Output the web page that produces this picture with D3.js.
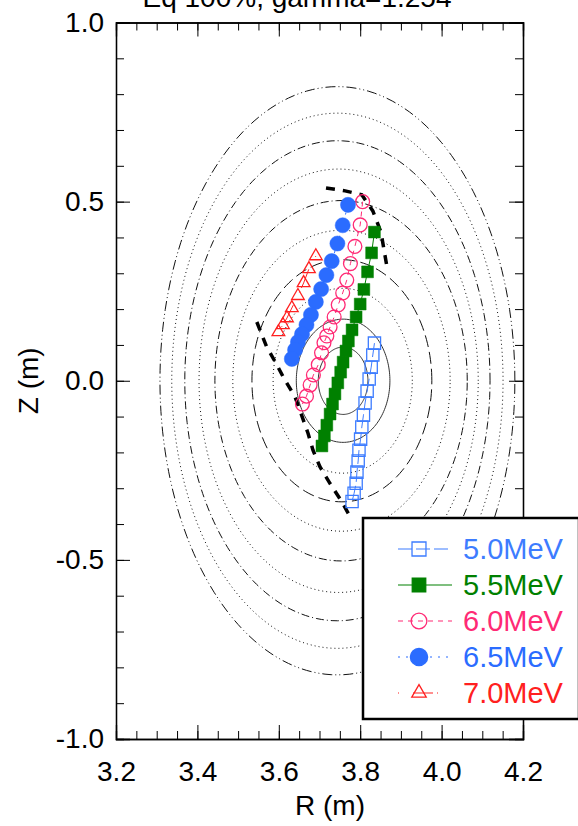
<!DOCTYPE html>
<html><head><meta charset="utf-8">
<script src="https://cdn.jsdelivr.net/npm/d3@7/dist/d3.min.js"></script>
<style>
html,body{margin:0;padding:0;background:#fff;}
svg{display:block;font-family:"Liberation Sans",Arial,sans-serif;}
</style></head>
<body>
<svg id="chart" width="578" height="826"></svg>
<script>
// ---------- data ----------
const titleText = "Eq 100%, gamma=1.254";
const xTicks = [3.2, 3.4, 3.6, 3.8, 4.0, 4.2];
const yTicks = [-1.0, -0.5, 0.0, 0.5, 1.0];
const xTickLabels = ["3.2", "3.4", "3.6", "3.8", "4.0", "4.2"];
const yTickLabels = ["-1.0", "-0.5", "0.0", "0.5", "1.0"];

// flux-surface contours (outer -> inner): centre R, half-width, half-height (m)
const contourR0 = [3.744, 3.744, 3.744, 3.747, 3.753, 3.754, 3.755, 3.757, 3.758, 3.758];
const contourA  = [0.436, 0.407, 0.375, 0.343, 0.310, 0.267, 0.221, 0.171, 0.115, 0.061];
const contourB  = [0.821, 0.747, 0.670, 0.591, 0.503, 0.420, 0.338, 0.258, 0.172, 0.094];
const contourStyle = ["dashdotdot", "dot", "dashdot", "dot", "dashdot", "dot", "longdash", "dot", "solid", "solid"];

// thick dashed boundary
const boundaryTopR = [3.716, 3.763, 3.804, 3.831, 3.851, 3.865];
const boundaryTopZ = [0.538, 0.530, 0.519, 0.474, 0.415, 0.323];
const boundaryLowR = [3.546, 3.570, 3.591, 3.615, 3.640, 3.656, 3.672, 3.684, 3.701, 3.726, 3.755, 3.780];
const boundaryLowZ = [0.164, 0.095, 0.053, 0.002, -0.045, -0.096, -0.147, -0.194, -0.240, -0.287, -0.338, -0.389];

// orbit series
const seriesNames = ["5.0MeV", "5.5MeV", "6.0MeV", "6.5MeV", "7.0MeV"];
const r50 = [3.835, 3.831, 3.827, 3.822, 3.817, 3.812, 3.808, 3.804, 3.801, 3.797, 3.795, 3.792, 3.790, 3.785, 3.780];
const z50 = [0.105, 0.072, 0.038, 0.005, -0.029, -0.062, -0.096, -0.129, -0.163, -0.194, -0.224, -0.255, -0.286, -0.314, -0.337];
const r55 = [3.835, 3.828, 3.818, 3.809, 3.800, 3.790, 3.780, 3.771, 3.765, 3.758, 3.752, 3.745, 3.738, 3.732, 3.726, 3.718, 3.712, 3.706];
const z55 = [0.415, 0.357, 0.304, 0.255, 0.214, 0.178, 0.142, 0.111, 0.083, 0.052, 0.024, -0.006, -0.037, -0.065, -0.093, -0.124, -0.154, -0.182];
const r60 = [3.806, 3.800, 3.787, 3.776, 3.767, 3.757, 3.746, 3.736, 3.726, 3.718, 3.711, 3.705, 3.697, 3.685, 3.677, 3.668, 3.658];
const z60 = [0.500, 0.435, 0.375, 0.327, 0.281, 0.245, 0.212, 0.178, 0.150, 0.125, 0.106, 0.078, 0.045, 0.016, -0.012, -0.043, -0.065];
const r65 = [3.770, 3.757, 3.744, 3.730, 3.717, 3.704, 3.691, 3.679, 3.668, 3.657, 3.647, 3.640, 3.632];
const z65 = [0.491, 0.434, 0.383, 0.334, 0.295, 0.256, 0.220, 0.184, 0.156, 0.130, 0.108, 0.086, 0.061];
const r70 = [3.691, 3.674, 3.661, 3.647, 3.632, 3.620, 3.610, 3.599];
const z70 = [0.348, 0.312, 0.273, 0.237, 0.203, 0.175, 0.156, 0.136];

const seriesR = [r50, r55, r60, r65, r70];
const seriesZ = [z50, z55, z60, z65, z70];

// ---------- styles ----------
const seriesColor = ["#3d7cff", "#008000", "#ff2a75", "#2b6cff", "#ff2020"];
const seriesSymbol = [d3.symbolSquare, d3.symbolSquare, d3.symbolCircle, d3.symbolCircle, d3.symbolTriangle];
const seriesSize = [150, 140, 150, 180, 70];
const seriesFilled = [false, true, false, true, false];
const seriesDash = ["14,4", null, "5,5", "2,6", "1,14,20,4"];
const dashMap = {solid: null, dot: "1,3", dashdot: "8,3,1,3", dashdotdot: "10,3,1,3,1,3", longdash: "12,5"};

const svg = d3.select("#chart");
const L = 116, Rr = 523, T = 22.5, B = 739;
const x = d3.scaleLinear().domain([3.2, 4.2]).range([L, Rr]);
const y = d3.scaleLinear().domain([-1, 1]).range([B, T]);

// title (partly cut off at top)
svg.append("text").attr("x", 297).attr("y", 7).attr("text-anchor", "middle")
  .attr("font-size", 28).attr("fill", "#000").text(titleText);

// contours
const plot = svg.append("g");
const ell = d3.line().x(d => x(d[0])).y(d => y(d[1])).curve(d3.curveLinearClosed);
contourR0.forEach((r0, i) => {
  const pts = d3.range(0, 360, 2).map(t => {
    const a = t * Math.PI / 180;
    return [r0 + contourA[i] * Math.cos(a), contourB[i] * Math.sin(a)];
  });
  plot.append("path").attr("d", ell(pts)).attr("fill", "none")
    .attr("stroke", i >= 8 ? "#333" : "#111").attr("stroke-width", 1)
    .attr("stroke-dasharray", dashMap[contourStyle[i]]);
});

// boundary
const ln = d3.line().x(d => x(d[0])).y(d => y(d[1]));
[[boundaryTopR, boundaryTopZ], [boundaryLowR, boundaryLowZ]].forEach(([rs, zs]) => {
  plot.append("path").attr("d", ln(rs.map((r, i) => [r, zs[i]])))
    .attr("fill", "none").attr("stroke", "#000").attr("stroke-width", 3.5)
    .attr("stroke-dasharray", "9,8");
});

// series
seriesR.forEach((rs, s) => {
  const pts = rs.map((r, i) => [r, seriesZ[s][i]]);
  plot.append("path").attr("d", ln(pts)).attr("fill", "none")
    .attr("stroke", seriesColor[s]).attr("stroke-width", 1)
    .attr("stroke-dasharray", seriesDash[s]);
  const sym = d3.symbol().type(seriesSymbol[s]).size(seriesSize[s]);
  plot.selectAll(null).data(pts).enter().append("path")
    .attr("d", sym)
    .attr("transform", d => `translate(${x(d[0])},${y(d[1])})`)
    .attr("fill", seriesFilled[s] ? seriesColor[s] : "none")
    .attr("stroke", seriesColor[s]).attr("stroke-width", seriesFilled[s] ? 0.5 : 1.3);
});

// axes
const xMinor = d3.range(3.2, 4.2001, 0.05).map(v => +v.toFixed(2));
const yMinor = d3.range(-1, 1.0001, 0.1).map(v => +v.toFixed(1));
function styleAx(g) {
  g.select(".domain").attr("stroke", "#000").attr("stroke-width", 1.3);
  g.selectAll(".tick line").attr("stroke", "#000").attr("stroke-width", 1);
}
const fmtX = d => xTickLabels[xTicks.indexOf(d)];
const fmtY = d => yTickLabels[yTicks.indexOf(d)];
svg.append("g").attr("transform", `translate(0,${B})`)
  .call(d3.axisBottom(x).tickValues(xMinor).tickSize(-8).tickFormat("")).call(styleAx);
svg.append("g").attr("transform", `translate(0,${B})`)
  .call(d3.axisBottom(x).tickValues(xTicks).tickSize(-14).tickPadding(22).tickFormat(fmtX))
  .call(styleAx).call(g => g.selectAll("text").attr("font-size", 28).attr("fill", "#000")
    .attr("font-family", "Liberation Sans, Arial, sans-serif"));
svg.append("g").attr("transform", `translate(0,${T})`)
  .call(d3.axisTop(x).tickValues(xMinor).tickSize(-8).tickFormat("")).call(styleAx);
svg.append("g").attr("transform", `translate(0,${T})`)
  .call(d3.axisTop(x).tickValues(xTicks).tickSize(-14).tickFormat("")).call(styleAx);
svg.append("g").attr("transform", `translate(${L},0)`)
  .call(d3.axisLeft(y).tickValues(yMinor).tickSize(-8).tickFormat("")).call(styleAx);
svg.append("g").attr("transform", `translate(${L},0)`)
  .call(d3.axisLeft(y).tickValues(yTicks).tickSize(-14).tickPadding(12).tickFormat(fmtY))
  .call(styleAx).call(g => g.selectAll("text").attr("font-size", 28).attr("fill", "#000")
    .attr("font-family", "Liberation Sans, Arial, sans-serif"));
svg.append("g").attr("transform", `translate(${Rr},0)`)
  .call(d3.axisRight(y).tickValues(yMinor).tickSize(-8).tickFormat("")).call(styleAx);
svg.append("g").attr("transform", `translate(${Rr},0)`)
  .call(d3.axisRight(y).tickValues(yTicks).tickSize(-14).tickFormat("")).call(styleAx);

// axis titles
svg.append("text").attr("x", 330).attr("y", 815).attr("text-anchor", "middle")
  .attr("font-size", 28).text("R (m)");
svg.append("text").attr("transform", `translate(38,${y(0)}) rotate(-90)`)
  .attr("text-anchor", "middle").attr("font-size", 28).text("Z (m)");

// legend
const lg = svg.append("g");
lg.append("rect").attr("x", 363).attr("y", 518).attr("width", 216).attr("height", 201)
  .attr("fill", "#fff").attr("stroke", "#000").attr("stroke-width", 2.5);
seriesNames.forEach((name, s) => {
  const cy = 549 + s * 36;
  lg.append("line").attr("x1", 398).attr("x2", 452).attr("y1", cy).attr("y2", cy)
    .attr("stroke", seriesColor[s]).attr("stroke-width", 1.2)
    .attr("stroke-dasharray", seriesDash[s]);
  lg.append("path").attr("d", d3.symbol().type(seriesSymbol[s]).size(seriesSize[s] * 1.3)())
    .attr("transform", `translate(419,${cy})`)
    .attr("fill", seriesFilled[s] ? seriesColor[s] : "none")
    .attr("stroke", seriesColor[s]).attr("stroke-width", 1.3);
  lg.append("text").attr("x", 463).attr("y", cy + 10).attr("font-size", 29)
    .attr("fill", seriesColor[s]).text(name);
});
</script>
</body></html>
